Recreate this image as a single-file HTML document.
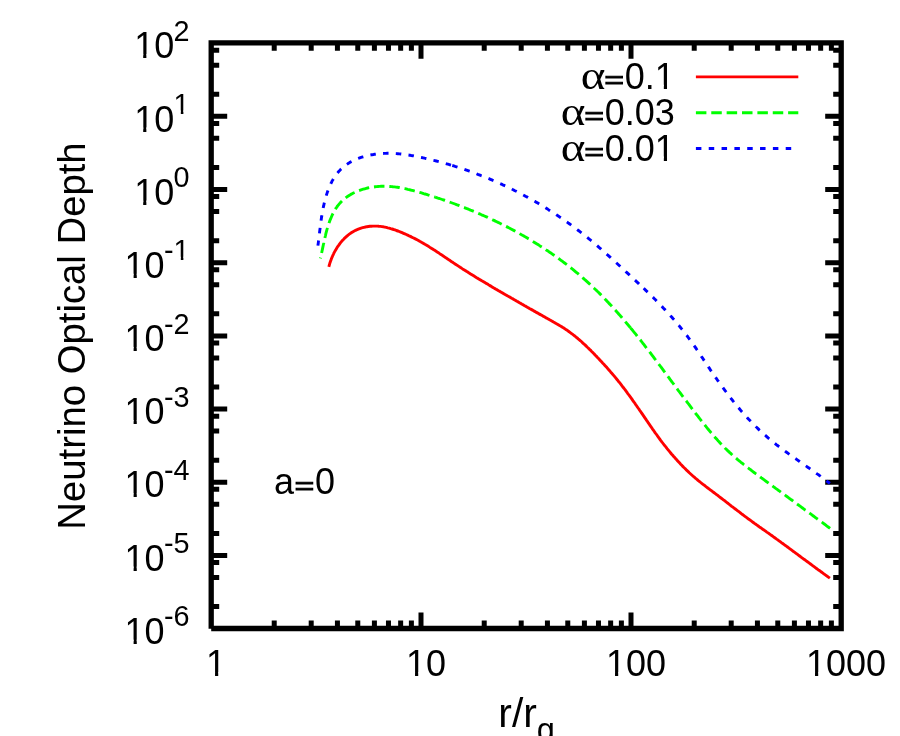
<!DOCTYPE html>
<html><head><meta charset="utf-8"><title>Neutrino Optical Depth</title>
<style>
html,body{margin:0;padding:0;background:#fff;}
body{width:900px;height:736px;overflow:hidden;font-family:"Liberation Sans",sans-serif;}
svg{display:block;position:absolute;left:0;top:0;}
text{font-family:"Liberation Sans",sans-serif;fill:#000;}
.ser{font-family:"Liberation Serif",serif;}
</style></head><body>
<svg width="900" height="736" viewBox="0 0 900 736" style="will-change:transform">
<rect x="0" y="0" width="900" height="736" fill="#fff"/>
<!-- tick marks -->
<path d="M274.22 628.5v-8M274.22 42.8v8M311.2 628.5v-8M311.2 42.8v8M337.43 628.5v-8M337.43 42.8v8M357.78 628.5v-8M357.78 42.8v8M374.41 628.5v-8M374.41 42.8v8M388.47 628.5v-8M388.47 42.8v8M400.65 628.5v-8M400.65 42.8v8M411.39 628.5v-8M411.39 42.8v8M421 628.5v-16M421 42.8v16M484.22 628.5v-8M484.22 42.8v8M521.2 628.5v-8M521.2 42.8v8M547.43 628.5v-8M547.43 42.8v8M567.78 628.5v-8M567.78 42.8v8M584.41 628.5v-8M584.41 42.8v8M598.47 628.5v-8M598.47 42.8v8M610.65 628.5v-8M610.65 42.8v8M621.39 628.5v-8M621.39 42.8v8M631 628.5v-16M631 42.8v16M694.22 628.5v-8M694.22 42.8v8M731.2 628.5v-8M731.2 42.8v8M757.43 628.5v-8M757.43 42.8v8M777.78 628.5v-8M777.78 42.8v8M794.41 628.5v-8M794.41 42.8v8M808.47 628.5v-8M808.47 42.8v8M820.65 628.5v-8M820.65 42.8v8M831.39 628.5v-8M831.39 42.8v8M211.2 606.57h8M841.2 606.57h-8M211.2 577.45h8M841.2 577.45h-8M211.2 562.51h8M841.2 562.51h-8M211.2 555.42h16M841.2 555.42h-16M211.2 533.39h8M841.2 533.39h-8M211.2 504.27h8M841.2 504.27h-8M211.2 489.33h8M841.2 489.33h-8M211.2 482.24h16M841.2 482.24h-16M211.2 460.21h8M841.2 460.21h-8M211.2 431.09h8M841.2 431.09h-8M211.2 416.15h8M841.2 416.15h-8M211.2 409.06h16M841.2 409.06h-16M211.2 387.03h8M841.2 387.03h-8M211.2 357.91h8M841.2 357.91h-8M211.2 342.97h8M841.2 342.97h-8M211.2 335.88h16M841.2 335.88h-16M211.2 313.85h8M841.2 313.85h-8M211.2 284.73h8M841.2 284.73h-8M211.2 269.79h8M841.2 269.79h-8M211.2 262.7h16M841.2 262.7h-16M211.2 240.67h8M841.2 240.67h-8M211.2 211.55h8M841.2 211.55h-8M211.2 196.61h8M841.2 196.61h-8M211.2 189.52h16M841.2 189.52h-16M211.2 167.49h8M841.2 167.49h-8M211.2 138.37h8M841.2 138.37h-8M211.2 123.43h8M841.2 123.43h-8M211.2 116.34h16M841.2 116.34h-16M211.2 94.31h8M841.2 94.31h-8M211.2 65.19h8M841.2 65.19h-8M211.2 50.25h8M841.2 50.25h-8" fill="none" stroke="#000" stroke-width="5" stroke-linecap="butt"/>
<!-- border: starts and ends at bottom-left (butt caps, mitred joins) -->
<path d="M211.2 628.5H841.2V42.8H211.2V628.7" fill="none" stroke="#000" stroke-width="5.3" stroke-linejoin="miter" stroke-linecap="butt"/>
<!-- tick labels -->
<text x="189.6" y="643.8" text-anchor="end" font-size="36">10<tspan font-size="28.8" dx="-0.6" dy="-17.5">-6</tspan></text>
<text x="189.6" y="570.62" text-anchor="end" font-size="36">10<tspan font-size="28.8" dx="-0.6" dy="-17.5">-5</tspan></text>
<text x="189.6" y="497.44" text-anchor="end" font-size="36">10<tspan font-size="28.8" dx="-0.6" dy="-17.5">-4</tspan></text>
<text x="189.6" y="424.26" text-anchor="end" font-size="36">10<tspan font-size="28.8" dx="-0.6" dy="-17.5">-3</tspan></text>
<text x="189.6" y="351.08" text-anchor="end" font-size="36">10<tspan font-size="28.8" dx="-0.6" dy="-17.5">-2</tspan></text>
<text x="189.6" y="277.9" text-anchor="end" font-size="36">10<tspan font-size="28.8" dx="-0.6" dy="-17.5">-1</tspan></text>
<text x="189.6" y="204.72" text-anchor="end" font-size="36">10<tspan font-size="28.8" dx="-0.6" dy="-17.5">0</tspan></text>
<text x="189.6" y="131.54" text-anchor="end" font-size="36">10<tspan font-size="28.8" dx="-0.6" dy="-17.5">1</tspan></text>
<text x="189.6" y="58.36" text-anchor="end" font-size="36">10<tspan font-size="28.8" dx="-0.6" dy="-17.5">2</tspan></text>
<text transform="translate(216 676.4)" text-anchor="middle" font-size="36">1</text>
<text transform="translate(426 676.4)" text-anchor="middle" font-size="36">10</text>
<text transform="translate(636 676.4)" text-anchor="middle" font-size="36">100</text>
<text transform="translate(846 676.4)" text-anchor="middle" font-size="36">1000</text>
<!-- axis labels -->
<text transform="translate(84.8 336) rotate(-90) scale(1 1.02)" text-anchor="middle" font-size="38.3">Neutrino Optical Depth</text>
<text x="498.3" y="727.3" font-size="40.8">r/r<tspan font-size="32.6" dy="13.2">g</tspan></text>
<text x="273.9" y="494.4" font-size="36">a</text>
<text transform="translate(294.78 493.64) scale(0.919 0.672)" font-size="36" stroke="#000" stroke-width="1.77">=</text>
<text transform="translate(314.94 494.4)" font-size="36">0</text>
<!-- legend -->
<text transform="translate(580.83 89.2) scale(1.149 1)" class="ser" font-size="40.9">α</text>
<text transform="translate(604.59 88.14) scale(0.919 0.672)" font-size="36" stroke="#000" stroke-width="1.77">=</text>
<text transform="translate(674.8 88.9)" text-anchor="end" font-size="36">0.1</text>
<text transform="translate(560.81 125.1) scale(1.149 1)" class="ser" font-size="40.9">α</text>
<text transform="translate(584.57 124.04) scale(0.919 0.672)" font-size="36" stroke="#000" stroke-width="1.77">=</text>
<text transform="translate(674.8 124.8)" text-anchor="end" font-size="36">0.03</text>
<text transform="translate(560.81 160.9) scale(1.149 1)" class="ser" font-size="40.9">α</text>
<text transform="translate(584.57 159.84) scale(0.919 0.672)" font-size="36" stroke="#000" stroke-width="1.77">=</text>
<text transform="translate(674.8 160.6)" text-anchor="end" font-size="36">0.01</text>
<g fill="#fff"><rect x="126.35" y="639.61" width="7.25" height="5.09"/><rect x="136.78" y="639.61" width="7.21" height="5.09"/><rect x="126.35" y="566.43" width="7.25" height="5.09"/><rect x="136.78" y="566.43" width="7.21" height="5.09"/><rect x="126.35" y="493.25" width="7.25" height="5.09"/><rect x="136.78" y="493.25" width="7.21" height="5.09"/><rect x="126.35" y="420.07" width="7.25" height="5.09"/><rect x="136.78" y="420.07" width="7.21" height="5.09"/><rect x="126.35" y="346.89" width="7.25" height="5.09"/><rect x="136.78" y="346.89" width="7.21" height="5.09"/><rect x="126.35" y="273.71" width="7.25" height="5.09"/><rect x="136.78" y="273.71" width="7.21" height="5.09"/><rect x="175.02" y="256.75" width="5.8" height="4.55"/><rect x="183.37" y="256.75" width="5.77" height="4.55"/><rect x="135.94" y="200.53" width="7.25" height="5.09"/><rect x="146.37" y="200.53" width="7.21" height="5.09"/><rect x="135.94" y="127.35" width="7.25" height="5.09"/><rect x="146.37" y="127.35" width="7.21" height="5.09"/><rect x="175.02" y="110.39" width="5.8" height="4.55"/><rect x="183.37" y="110.39" width="5.77" height="4.55"/><rect x="135.94" y="54.17" width="7.25" height="5.09"/><rect x="146.37" y="54.17" width="7.21" height="5.09"/><rect x="207.79" y="672.21" width="7.25" height="5.09"/><rect x="218.22" y="672.21" width="7.21" height="5.09"/><rect x="407.78" y="672.21" width="7.25" height="5.09"/><rect x="418.21" y="672.21" width="7.21" height="5.09"/><rect x="607.77" y="672.21" width="7.25" height="5.09"/><rect x="618.2" y="672.21" width="7.21" height="5.09"/><rect x="807.76" y="672.21" width="7.25" height="5.09"/><rect x="818.19" y="672.21" width="7.21" height="5.09"/><rect x="656.58" y="84.71" width="7.25" height="5.09"/><rect x="667.01" y="84.71" width="7.21" height="5.09"/><rect x="656.58" y="156.41" width="7.25" height="5.09"/><rect x="667.01" y="156.41" width="7.21" height="5.09"/></g>
<path d="M695.9 76.9H798.3" stroke="#f00" stroke-width="2.9" fill="none"/>
<path d="M695.9 112.8H798.3" stroke="#0f0" stroke-width="2.9" fill="none" stroke-dasharray="10.5 4.87"/>
<path d="M695.9 148.5H798.3" stroke="#00f" stroke-width="2.9" fill="none" stroke-dasharray="5.5 7.33"/>
<!-- curves -->
<path d="M328.84 266.88L329.2 265.5 329.6 264.1 330 262.7 330.5 261.3 331 259.9 331.5 258.5 332.1 257.1 332.7 255.7 333.4 254.3 334 252.9 334.7 251.6 335.5 250.2 336.3 248.9 337.1 247.6 337.9 246.3 338.8 245.1 339.7 243.8 340.6 242.6 341.6 241.4 342.6 240.3 343.7 239.2 344.7 238.1 345.8 237.1 346.9 236.1 348.1 235.1 349.3 234.2 350.5 233.3 351.7 232.5 353 231.7 354.3 231 355.6 230.3 357 229.7 358.3 229.1 359.7 228.6 361.1 228.1 362.6 227.7 364 227.3 365.5 227 366.9 226.7 368.4 226.5 369.9 226.3 371.4 226.2 372.9 226.1 374.4 226.1 375.9 226.1 377.4 226.1 378.9 226.3 380.4 226.4 381.9 226.6 383.4 226.8 384.8 227.1 386.3 227.4 387.8 227.8 389.2 228.1 390.7 228.6 392.1 229 393.6 229.5 395 229.9 396.4 230.5 397.9 231 399.3 231.5 400.7 232.1 402.1 232.7 403.5 233.3 404.9 233.9 406.3 234.5 407.6 235.1 409 235.8 410.4 236.4 411.7 237.1 413.1 237.8 414.4 238.4 415.8 239.1 417.1 239.8 418.4 240.5 419.7 241.3 421 242 422.3 242.7 423.6 243.5 424.9 244.3 426.2 245 427.5 245.8 428.8 246.6 430 247.4 431.3 248.2 432.6 249 433.8 249.8 435.1 250.6 436.4 251.4 437.6 252.3 438.9 253.1 440.1 253.9 441.4 254.7 442.6 255.6 443.9 256.4 445.1 257.3 446.3 258.1 447.6 258.9 448.8 259.8 450.1 260.6 451.3 261.5 452.6 262.3 453.8 263.1 455.1 264 456.3 264.8 457.6 265.6 458.8 266.4 460.1 267.3 461.4 268.1 462.6 268.9 463.9 269.7 465.2 270.5 466.4 271.3 467.7 272.1 469 272.9 470.2 273.7 471.5 274.5 472.8 275.3 474.1 276.1 475.4 276.9 476.6 277.7 477.9 278.4 479.2 279.2 480.5 280 481.8 280.8 483.1 281.5 484.4 282.3 485.7 283.1 487 283.8 488.3 284.6 489.5 285.4 490.8 286.1 492.1 286.9 493.4 287.7 494.7 288.4 496 289.2 497.3 289.9 498.6 290.7 499.9 291.4 501.2 292.2 502.5 292.9 503.8 293.7 505.1 294.5 506.4 295.2 507.8 296 509.1 296.7 510.4 297.4 511.7 298.2 513 298.9 514.3 299.7 515.6 300.4 516.9 301.2 518.2 301.9 519.5 302.7 520.8 303.4 522.1 304.2 523.4 304.9 524.7 305.7 526 306.4 527.3 307.2 528.6 307.9 529.9 308.7 531.2 309.4 532.5 310.1 533.8 310.9 535.1 311.6 536.4 312.4 537.8 313.1 539.1 313.9 540.4 314.6 541.7 315.3 543 316.1 544.3 316.8 545.6 317.6 546.9 318.3 548.2 319 549.6 319.8 550.9 320.5 552.2 321.2 553.5 322 554.8 322.7 556.1 323.5 557.4 324.2 558.7 325 560 325.8 561.3 326.5 562.5 327.3 563.8 328.1 565.1 328.9 566.3 329.8 567.6 330.6 568.8 331.5 570 332.4 571.2 333.3 572.4 334.2 573.6 335.1 574.8 336 575.9 337 577.1 337.9 578.2 338.9 579.4 339.9 580.5 340.8 581.6 341.8 582.7 342.9 583.8 343.9 585 344.9 586 345.9 587.1 347 588.2 348 589.3 349.1 590.4 350.1 591.4 351.2 592.5 352.2 593.5 353.3 594.6 354.4 595.6 355.5 596.7 356.6 597.7 357.7 598.8 358.8 599.8 359.9 600.8 361 601.8 362.1 602.8 363.2 603.9 364.3 604.9 365.4 605.9 366.5 606.9 367.6 607.9 368.8 608.9 369.9 609.9 371 610.8 372.2 611.8 373.3 612.8 374.4 613.8 375.6 614.7 376.7 615.7 377.9 616.6 379 617.6 380.2 618.5 381.4 619.5 382.5 620.4 383.7 621.3 384.9 622.2 386.1 623.1 387.3 624.1 388.5 625 389.7 625.9 390.9 626.8 392.1 627.6 393.3 628.5 394.5 629.4 395.7 630.3 396.9 631.2 398.1 632.1 399.4 632.9 400.6 633.8 401.8 634.7 403 635.5 404.3 636.4 405.5 637.2 406.7 638.1 408 639 409.2 639.8 410.5 640.7 411.7 641.5 412.9 642.4 414.2 643.2 415.4 644.1 416.7 644.9 417.9 645.8 419.2 646.6 420.4 647.5 421.6 648.3 422.9 649.2 424.1 650 425.4 650.9 426.6 651.7 427.8 652.6 429.1 653.5 430.3 654.3 431.5 655.2 432.8 656.1 434 657 435.2 657.8 436.4 658.7 437.6 659.6 438.8 660.5 440.1 661.4 441.3 662.3 442.5 663.2 443.7 664.1 444.8 665.1 446 666 447.2 666.9 448.4 667.9 449.6 668.8 450.7 669.8 451.9 670.7 453 671.7 454.2 672.7 455.3 673.7 456.5 674.7 457.6 675.7 458.7 676.7 459.8 677.7 460.9 678.7 462 679.7 463.1 680.7 464.2 681.8 465.3 682.8 466.4 683.9 467.5 685 468.5 686 469.6 687.1 470.6 688.2 471.6 689.3 472.7 690.4 473.7 691.5 474.7 692.6 475.7 693.7 476.7 694.9 477.7 696 478.7 697.2 479.6 698.3 480.6 699.5 481.5 700.7 482.5 701.8 483.4 703 484.3 704.2 485.2 705.4 486.2 706.6 487.1 707.8 488 709 488.9 710.2 489.8 711.4 490.7 712.6 491.6 713.8 492.5 715 493.4 716.2 494.3 717.4 495.2 718.6 496.2 719.8 497.1 721 498 722.2 498.9 723.4 499.8 724.6 500.7 725.8 501.7 727 502.6 728.2 503.5 729.3 504.4 730.5 505.3 731.7 506.3 732.9 507.2 734.1 508.1 735.3 509 736.5 509.9 737.7 510.8 738.9 511.7 740.1 512.6 741.3 513.6 742.5 514.5 743.7 515.4 744.9 516.3 746.1 517.2 747.3 518.1 748.5 519 749.7 519.8 750.9 520.7 752.1 521.6 753.3 522.5 754.5 523.4 755.8 524.3 757 525.1 758.2 526 759.4 526.9 760.7 527.7 761.9 528.6 763.1 529.5 764.4 530.3 765.6 531.2 766.8 532.1 768 532.9 769.3 533.8 770.5 534.7 771.7 535.5 772.9 536.4 774.1 537.3 775.4 538.2 776.6 539.1 777.8 539.9 779 540.8 780.2 541.7 781.4 542.6 782.7 543.5 783.9 544.4 785.1 545.3 786.3 546.1 787.5 547 788.7 547.9 789.9 548.8 791.1 549.7 792.3 550.6 793.5 551.5 794.8 552.4 796 553.3 797.2 554.2 798.4 555.1 799.6 556 800.8 556.9 802 557.8 803.2 558.7 804.4 559.5 805.6 560.4 806.8 561.3 808.1 562.2 809.3 563.1 810.5 564 811.7 564.9 812.9 565.8 814.1 566.7 815.3 567.6 816.5 568.5 817.7 569.4 818.9 570.3 820.2 571.1 821.4 572 822.6 572.9 823.8 573.8 825 574.7 826.2 575.6 827.5 576.4 828.7 577.3 829.9 578.2" stroke="#f00" stroke-width="2.9" fill="none" stroke-linejoin="round"/>
<path d="M320.36 258.47L320.7 257.2 321 255.8 321.3 254.5 321.6 253.1 321.9 251.7 322.2 250.3 322.5 248.9 322.8 247.4 323.1 246 323.4 244.5 323.8 243 324.1 241.5 324.4 240 324.8 238.5 325.1 237 325.5 235.5 325.8 233.9 326.2 232.4 326.6 230.9 327 229.4 327.5 227.9 327.9 226.4 328.4 224.9 328.9 223.4 329.4 222 329.9 220.5 330.5 219.1 331.1 217.7 331.7 216.3 332.3 214.9 333 213.5 333.7 212.2 334.4 210.9 335.2 209.6 335.9 208.3 336.8 207.1 337.6 205.9 338.5 204.8 339.5 203.6 340.4 202.6 341.5 201.5 342.5 200.5 343.6 199.5 344.7 198.6 345.9 197.7 347.1 196.8 348.3 196 349.5 195.2 350.8 194.4 352.1 193.7 353.4 193 354.8 192.4 356.1 191.8 357.5 191.2 358.9 190.6 360.3 190.1 361.8 189.6 363.2 189.2 364.7 188.8 366.2 188.4 367.6 188 369.1 187.7 370.6 187.4 372.1 187.2 373.6 187 375.1 186.8 376.6 186.6 378.1 186.5 379.6 186.4 381.1 186.3 382.6 186.3 384.1 186.3 385.6 186.3 387.1 186.3 388.6 186.4 390.1 186.5 391.6 186.6 393 186.8 394.5 186.9 396 187.1 397.4 187.3 398.9 187.5 400.4 187.8 401.8 188.1 403.3 188.3 404.8 188.6 406.2 188.9 407.7 189.3 409.1 189.6 410.6 190 412 190.3 413.5 190.7 414.9 191.1 416.4 191.5 417.8 191.9 419.3 192.3 420.7 192.7 422.2 193.1 423.6 193.6 425 194 426.5 194.4 427.9 194.9 429.4 195.3 430.8 195.8 432.2 196.2 433.7 196.7 435.1 197.1" stroke="#0f0" stroke-width="2.9" fill="none" stroke-linejoin="round" stroke-dasharray="10.5 4.87" stroke-dashoffset="9.7"/>
<path d="M435.09 197.13L436.5 197.6 438 198.1 439.4 198.5 440.8 199 442.2 199.5 443.7 200 445.1 200.5 446.5 201 447.9 201.5 449.4 202 450.8 202.5 452.2 203 453.6 203.5 455 204 456.5 204.6 457.9 205.1 459.3 205.6 460.7 206.2 462.1 206.7 463.5 207.3 464.9 207.8 466.3 208.4 467.7 208.9 469.1 209.5 470.5 210.1 471.9 210.6 473.3 211.2 474.7 211.8 476.1 212.4 477.5 213 478.9 213.6 480.3 214.2 481.6 214.8 483 215.4 484.4 216 485.8 216.6 487.2 217.2 488.5 217.9 489.9 218.5 491.3 219.1 492.6 219.8 494 220.4 495.4 221.1 496.7 221.7 498.1 222.4 499.4 223 500.8 223.7 502.1 224.4 503.5 225 504.8 225.7 506.2 226.4 507.5 227.1 508.8 227.8 510.2 228.5 511.5 229.2 512.8 229.9 514.2 230.6 515.5 231.3 516.8 232.1 518.1 232.8 519.4 233.5 520.7 234.3 522 235 523.4 235.7 524.7 236.5 526 237.2 527.3 238 528.5 238.8 529.8 239.5 531.1 240.3 532.4 241.1 533.7 241.9 535 242.7 536.2 243.5 537.5 244.3 538.8 245.1 540 245.9 541.3 246.7 542.6 247.5 543.8 248.3 545.1 249.1 546.3 250 547.6 250.8 548.8 251.6 550 252.5 551.3 253.3 552.5 254.2 553.7 255 555 255.9 556.2 256.8 557.4 257.6 558.6 258.5 559.8 259.4 561 260.3 562.2 261.2 563.4 262.1 564.6 263 565.8 263.9 567 264.8 568.2 265.7 569.3 266.6 570.5 267.6 571.7 268.5 572.8 269.4 574 270.4 575.1 271.3 576.3 272.3 577.4 273.2 578.6 274.2 579.7 275.2 580.9 276.1 582 277.1 583.1 278.1 584.2 279.1 585.4 280.1 586.5 281.1 587.6 282.1 588.7 283.1 589.8 284.1 590.9 285.1 592 286.1 593 287.1 594.1 288.2 595.2 289.2 596.3 290.2 597.3 291.3 598.4 292.3 599.5 293.4 600.5 294.4 601.6 295.5 602.6 296.6 603.7 297.6 604.7 298.7 605.7 299.8 606.8 300.9 607.8 302 608.8 303.1 609.8 304.1 610.9 305.2 611.9 306.3 612.9 307.4 613.9 308.6 614.9 309.7 615.9 310.8 616.9 311.9 617.9 313 618.9 314.2 619.9 315.3 620.9 316.4 621.8 317.5 622.8 318.7 623.8 319.8 624.8 321 625.7 322.1 626.7 323.3 627.7 324.4 628.6 325.6 629.6 326.7 630.6 327.9" stroke="#0f0" stroke-width="2.9" fill="none" stroke-linejoin="round" stroke-dasharray="10.5 4.87" stroke-dashoffset="0"/>
<path d="M630.57 327.89L631.5 329.1 632.5 330.2 633.4 331.4 634.4 332.6 635.3 333.7 636.3 334.9 637.2 336.1 638.2 337.3 639.1 338.4 640 339.6 641 340.8 641.9 342 642.8 343.2 643.8 344.4 644.7 345.6 645.6 346.8 646.5 348 647.5 349.1 648.4 350.3 649.3 351.5 650.2 352.7 651.1 353.9 652 355.1 653 356.4 653.9 357.6 654.8 358.8 655.7 360 656.6 361.2 657.5 362.4 658.4 363.6 659.3 364.8 660.2 366 661.1 367.2 662 368.4 662.9 369.6 663.8 370.9 664.7 372.1 665.6 373.3 666.5 374.5 667.4 375.7 668.3 376.9 669.2 378.1 670.1 379.4 671 380.6 671.9 381.8 672.8 383 673.7 384.2 674.6 385.4 675.5 386.6 676.4 387.8 677.3 389 678.2 390.3 679.1 391.5 680 392.7 680.9 393.9 681.8 395.1 682.7 396.3 683.6 397.5 684.5 398.7 685.4 399.9 686.4 401.1 687.3 402.3 688.2 403.5 689.1 404.7 690 405.9 690.9 407.1 691.8 408.3 692.7 409.5 693.6 410.7 694.5 411.9 695.4 413.1 696.3 414.3 697.3 415.4 698.2 416.6 699.1 417.8 700 419 700.9 420.2 701.9 421.3 702.8 422.5 703.7 423.7 704.6 424.8 705.6 426 706.5 427.2 707.4 428.3 708.4 429.5 709.3 430.6 710.3 431.8 711.2 432.9 712.2 434 713.1 435.2 714.1 436.3 715.1 437.4 716.1 438.5 717.1 439.6 718 440.7 719.1 441.8 720.1 442.9 721.1 444 722.1 445.1 723.1 446.2 724.2 447.2 725.2 448.3 726.3 449.3 727.4 450.4 728.5 451.4 729.5 452.4 730.7 453.4 731.8 454.5 732.9 455.5 734 456.4 735.1 457.4 736.3 458.4 737.4 459.4 738.6 460.4 739.8 461.3 740.9 462.3 742.1 463.2 743.3 464.2 744.5 465.1 745.7 466 746.9 467 748.1 467.9 749.3 468.8 750.5 469.7 751.7 470.7 752.9 471.6 754.1 472.5 755.3 473.4 756.6 474.3 757.8 475.2 759 476.1 760.2 477 761.4 477.9 762.7 478.8 763.9 479.7 765.1 480.6 766.3 481.5 767.5 482.3 768.7 483.2 769.9 484.1 771.2 485 772.4 485.9 773.6 486.8 774.8 487.7 776 488.6 777.2 489.4 778.4 490.3 779.6 491.2 780.8 492.1 782 493 783.3 493.9 784.5 494.7 785.7 495.6 786.9 496.5 788.1 497.4 789.3 498.3 790.5 499.2 791.7 500 792.9 500.9 794.1 501.8 795.3 502.7 796.5 503.6 797.7 504.5 798.9 505.3 800.1 506.2 801.3 507.1 802.5 508 803.7 508.9 804.9 509.8 806.2 510.6 807.4 511.5 808.6 512.4 809.8 513.3 811 514.2 812.2 515.1 813.4 516 814.6 516.9 815.8 517.8 817 518.7 818.2 519.6 819.4 520.4 820.7 521.3 821.9 522.2 823.1 523.1 824.3 524 825.5 524.9 826.7 525.9 827.9 526.8 829.2 527.7 830.4 528.6" stroke="#0f0" stroke-width="2.9" fill="none" stroke-linejoin="round" stroke-dasharray="10.44 4.83" stroke-dashoffset="0"/>
<path d="M317.91 245.63L318.1 244.3 318.3 243 318.4 241.7 318.6 240.4 318.8 239 318.9 237.6 319.1 236.2 319.3 234.8 319.5 233.3 319.6 231.9 319.8 230.4 320 228.9 320.2 227.4 320.4 225.9 320.6 224.3 320.8 222.8 321 221.3 321.2 219.7 321.4 218.2 321.7 216.6 321.9 215.1 322.2 213.5 322.4 211.9 322.7 210.4 323 208.8 323.3 207.3 323.7 205.7 324 204.2 324.4 202.6 324.7 201.1 325.1 199.6 325.5 198.1 326 196.6 326.4 195.1 326.9 193.6 327.4 192.1 327.9 190.7 328.4 189.2 329 187.8 329.6 186.4 330.2 185 330.8 183.7 331.5 182.4 332.1 181 332.9 179.8 333.6 178.5 334.4 177.3 335.2 176.1 336 174.9 336.9 173.7 337.8 172.6 338.7 171.5 339.7 170.5 340.6 169.5 341.7 168.5 342.7 167.5 343.8 166.6 344.9 165.8 346.1 164.9 347.3 164.1 348.5 163.3 349.7 162.6 351 161.8 352.2 161.2 353.5 160.5 354.9 159.9 356.2 159.3 357.6 158.7 359 158.2 360.4 157.7 361.8 157.2 363.2 156.8 364.6 156.4 366.1 156 367.6 155.6 369 155.3 370.5 155 372 154.7 373.5 154.5 375 154.2 376.5 154 378.1 153.9 379.6 153.7 381.1 153.6 382.6 153.5 384.1 153.4 385.7 153.4 387.2 153.3 388.7 153.3 390.2 153.3 391.7 153.4 393.2 153.4 394.8 153.5 396.3 153.6 397.8 153.7 399.3 153.9 400.8 154 402.3 154.2 403.8 154.4 405.3 154.6 406.8 154.8 408.3 155 409.7 155.2 411.2 155.5 412.7 155.7 414.2 156 415.7 156.3 417.2 156.6 418.7 156.9 420.1 157.2 421.6 157.5 423.1 157.8 424.6 158.2 426 158.5 427.5 158.8 429 159.2 430.4 159.5 431.9 159.9 433.4 160.3 434.8 160.6 436.3 161 437.7 161.4 439.2 161.8 440.7 162.2 442.1 162.6 443.6 163 445 163.4 446.5 163.8 447.9 164.2 449.4 164.6 450.8 165.1 452.2 165.5" stroke="#00f" stroke-width="2.9" fill="none" stroke-linejoin="round" stroke-dasharray="5.47 7.29" stroke-dashoffset="0.3"/>
<path d="M452.24 165.5L453.7 165.9 455.1 166.4 456.5 166.8 458 167.3 459.4 167.8 460.8 168.2 462.3 168.7 463.7 169.2 465.1 169.7 466.5 170.2 468 170.7 469.4 171.2 470.8 171.7 472.2 172.2 473.6 172.7 475 173.2 476.4 173.7 477.8 174.3 479.2 174.8 480.6 175.4 482 175.9 483.4 176.5 484.8 177 486.2 177.6 487.6 178.2 489 178.7 490.4 179.3 491.8 179.9 493.1 180.5 494.5 181.1 495.9 181.7 497.3 182.3 498.6 182.9 500 183.5 501.4 184.1 502.7 184.8 504.1 185.4 505.5 186 506.8 186.7 508.2 187.3 509.5 188 510.9 188.6 512.2 189.3 513.6 190 514.9 190.7 516.2 191.3 517.6 192 518.9 192.7 520.2 193.4 521.6 194.1 522.9 194.8 524.2 195.5 525.5 196.2 526.9 196.9 528.2 197.7 529.5 198.4 530.8 199.1 532.1 199.9 533.4 200.6 534.7 201.3 536 202.1 537.3 202.8 538.6 203.6 539.9 204.4 541.2 205.1 542.4 205.9 543.7 206.7 545 207.5 546.3 208.3 547.6 209.1 548.8 209.9 550.1 210.7 551.4 211.5 552.6 212.3 553.9 213.1 555.1 213.9 556.4 214.8 557.6 215.6 558.9 216.4 560.1 217.3 561.4 218.1 562.6 219 563.8 219.8 565.1 220.7 566.3 221.6 567.5 222.4 568.7 223.3 570 224.2 571.2 225.1 572.4 226 573.6 226.9 574.8 227.7 576 228.7 577.2 229.6 578.4 230.5 579.6 231.4 580.8 232.3 582 233.2 583.1 234.2 584.3 235.1 585.5 236 586.7 237 587.8 237.9 589 238.9 590.2 239.8 591.3 240.8 592.5 241.7 593.6 242.7 594.8 243.7 595.9 244.7 597.1 245.6 598.2 246.6 599.3 247.6 600.5 248.6 601.6 249.6 602.7 250.6 603.9 251.6 605 252.6 606.1 253.6 607.2 254.6 608.4 255.6 609.5 256.6 610.6 257.6 611.7 258.6 612.8 259.6 613.9 260.6 615.1 261.7 616.2 262.7 617.3 263.7 618.4 264.7 619.5 265.7 620.6 266.8 621.7 267.8 622.8 268.8 623.9 269.8 625 270.8 626.1 271.9 627.2 272.9 628.3 273.9 629.4 274.9 630.5 276 631.6 277 632.7 278 633.8 279 634.9 280.1 636 281.1 637.1 282.1 638.2 283.1 639.3 284.2 640.4 285.2 641.5 286.2 642.6 287.3 643.7 288.3" stroke="#00f" stroke-width="2.9" fill="none" stroke-linejoin="round" stroke-dasharray="5.5 7.33" stroke-dashoffset="0"/>
<path d="M643.67 288.29L644.8 289.3 645.8 290.4 646.9 291.4 648 292.4 649.1 293.5 650.2 294.5 651.2 295.6 652.3 296.6 653.4 297.7 654.4 298.8 655.5 299.8 656.5 300.9 657.6 302 658.6 303 659.7 304.1 660.7 305.2 661.8 306.3 662.8 307.4 663.8 308.5 664.9 309.6 665.9 310.7 666.9 311.8 667.9 312.9 668.9 314 669.9 315.1 670.9 316.2 671.9 317.3 672.9 318.5 673.9 319.6 674.9 320.7 675.9 321.9 676.8 323 677.8 324.2 678.8 325.3 679.7 326.5 680.7 327.7 681.6 328.8 682.6 330 683.5 331.2 684.4 332.4 685.3 333.6 686.2 334.8 687.1 335.9 688 337.2 688.9 338.4 689.8 339.6 690.7 340.8 691.6 342 692.4 343.2 693.3 344.5 694.2 345.7 695 346.9 695.9 348.2 696.7 349.4 697.6 350.6 698.4 351.9 699.2 353.1 700.1 354.4 700.9 355.6 701.7 356.9 702.6 358.1 703.4 359.4 704.2 360.6 705.1 361.9 705.9 363.1 706.7 364.4 707.6 365.7 708.4 366.9 709.3 368.2 710.1 369.4 710.9 370.7 711.8 371.9 712.6 373.1 713.5 374.4 714.4 375.6 715.2 376.9 716.1 378.1 716.9 379.3 717.8 380.6 718.7 381.8 719.5 383 720.4 384.2 721.3 385.5 722.2 386.7 723.1 387.9 724 389.1 724.9 390.3 725.8 391.5 726.7 392.7 727.6 393.9 728.5 395.1 729.4 396.3 730.3 397.5 731.2 398.7 732.2 399.9 733.1 401.1 734 402.2 735 403.4 735.9 404.6 736.9 405.7 737.8 406.9 738.8 408 739.8 409.2 740.7 410.3 741.7 411.5 742.7 412.6 743.7 413.7 744.7 414.8 745.7 415.9 746.7 417.1 747.7 418.2 748.7 419.3 749.7 420.3 750.8 421.4 751.8 422.5 752.8 423.6 753.9 424.7 755 425.7 756 426.8 757.1 427.8 758.2 428.9 759.2 429.9 760.3 430.9 761.4 431.9 762.5 433 763.6 434 764.8 435 765.9 435.9 767 436.9 768.1 437.9 769.3 438.9 770.4 439.8 771.6 440.8 772.8 441.7 773.9 442.7 775.1 443.6 776.3 444.6 777.5 445.5 778.7 446.4 779.9 447.3 781.1 448.2 782.3 449.1 783.5 450 784.7 450.9 785.9 451.8 787.2 452.7 788.4 453.6 789.6 454.5 790.8 455.3 792.1 456.2 793.3 457.1 794.5 458 795.8 458.8 797 459.7 798.2 460.6 799.5 461.4 800.7 462.3 802 463.2 803.2 464 804.4 464.9 805.7 465.8 806.9 466.6 808.1 467.5 809.4 468.3 810.6 469.2 811.8 470.1 813.1 470.9 814.3 471.8 815.5 472.7 816.7 473.6 817.9 474.4 819.2 475.3 820.4 476.2 821.6 477.1 822.8 478 824 478.9 825.2 479.8 826.3 480.7 827.5 481.6 828.7 482.5 829.9 483.4" stroke="#00f" stroke-width="2.9" fill="none" stroke-linejoin="round" stroke-dasharray="5.47 7.28" stroke-dashoffset="0"/>
</svg>
</body></html>
